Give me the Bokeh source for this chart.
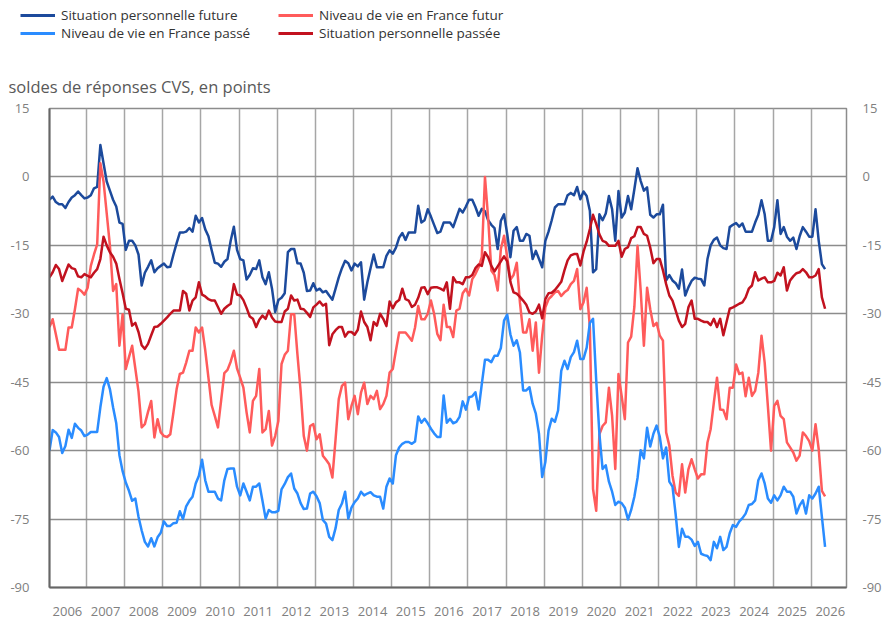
from bokeh.plotting import figure
from bokeh.models import Range1d, FixedTicker, LinearAxis, Legend, LegendItem
from bokeh.layouts import column
from bokeh.embed import file_html
from bokeh.resources import INLINE
from bokeh.core.properties import value

FONT = "Open Sans"

# ---------------- data (monthly, Jan 2006 onward) ----------------
years = [str(y) for y in range(2006, 2027)]
y_ticks = [15, 0, -15, -30, -45, -60, -75, -90]
y_tick_labels = ["15", "0", "-15", "-30", "-45", "-60", "-75", "-90"]
subtitle = "soldes de réponses CVS, en points"

names = ["Situation personnelle future", "Niveau de vie en France futur",
         "Niveau de vie en France passé", "Situation personnelle passée"]
colors = ["#1C4A9C", "#FF5B5B", "#2A8CFF", "#C2121F"]

# Situation personnelle future
spf = [
    -5, -4.3, -5.5, -6, -6, -6.8, -5.5, -4.5, -4, -3.2, -4, -4.7,
    -4.5, -4, -2.5, -2.2, 7, 3, -1, -3, -5, -6.5, -10, -10.3,
    -16, -14, -14, -15, -17, -23.8, -21, -19.7, -18.3, -20.9, -20, -19.5,
    -19, -19.8, -19.7, -17, -14.5, -12.2, -12.2, -12, -11.2, -12, -8.5, -10,
    -9, -11.5, -13, -16, -18.8, -19, -19.7, -18.6, -18, -14, -10.9, -16,
    -18, -18.3, -22.5, -21.5, -20, -20.2, -18.3, -22, -23.5, -20.9, -24.5, -29.6,
    -27, -26.5, -25.5, -16.5, -15.8, -15.8, -18.9, -19, -21, -25, -24.9, -23.3,
    -24.9, -24.5, -25.3, -25, -26, -26.9, -24.5, -22, -20, -18.4, -18.9, -20.5,
    -19, -19.6, -18.7, -26.9, -23.1, -20, -17, -19.8, -19.8, -19.8, -17.3, -16.1,
    -16.8, -15.5, -13.3, -12.3, -13.8, -12.2, -12.2, -12.2, -6.3, -10, -9.5, -7.1,
    -8.7, -10.5, -12.3, -12, -10, -10, -10, -11, -9, -7, -7.8, -6.5,
    -5, -5, -6.6, -8.5, -7, -7.5, -9.5, -10.5, -11.2, -15.8, -9.6, -8.2,
    -12.5, -17.6, -11.8, -11, -14, -14, -12.5, -12.9, -18, -16.2, -18, -19.8,
    -14, -12, -9.5, -6.7, -6, -6, -6, -4, -3.5, -4, -2.2, -4.9,
    -3.2, -4.2, -7.4, -20.9, -20.2, -8.2, -9.5, -8, -4.2, -7.1, -14, -3.1,
    -8.9, -7.8, -4.2, -7.1, -2.7, 1.9, -0.9, -3, -2.3, -8.3, -8.9, -8.2,
    -8.2, -6.1, -22.7, -21.5, -22.7, -23.3, -24.5, -20.3, -26, -24.2, -22.8, -22.1,
    -22.3, -22.4, -23.8, -18, -15, -13.8, -13.3, -15, -15.6, -15.8, -11, -10.5,
    -10.1, -10.9, -10.2, -12, -12, -12, -10, -8.3, -5.1, -8.2, -14, -14,
    -11, -5.1, -12.5, -11, -13.1, -14, -13.3, -15.8, -13, -11, -12, -13.1,
    -13.1, -7.1, -14, -19.1, -20.2,
]

# Niveau de vie en France futur
nvff = [
    -32.9, -31.2, -34.5, -37.9, -37.9, -37.9, -33, -33, -29, -24.5, -25, -25.8,
    -24.3, -19.5, -17, -14.8, 3, -1, -8, -15, -25, -23.5, -37, -30.1,
    -42.1, -39.5, -37, -42, -47, -54.9, -54.2, -51.5, -49.1, -57.1, -53.1, -56,
    -56.8, -57, -56.4, -51.6, -46.5, -43.2, -42.9, -40.7, -38.1, -38.1, -33, -34.1,
    -33, -38, -44, -50, -52.4, -54.9, -49, -43, -42.3, -40.5, -38.1, -42,
    -44, -46.2, -51.6, -56, -49.1, -48, -42.1, -56, -55.3, -51.3, -58.9, -56.8,
    -53.5, -41, -39, -38.1, -30.1, -30.1, -38.9, -46.9, -56.8, -60, -54.6, -54.2,
    -57.5, -56.4, -61.1, -62, -63, -65.9, -57.5, -48.7, -45.8, -45.1, -53.1, -50.2,
    -48, -52, -47.3, -45.1, -49.8, -48, -48.7, -46.9, -50.9, -49.8, -48, -42.9,
    -42.1, -38, -34.1, -34.1, -34.1, -35, -35.9, -33, -28.3, -31.2, -31.2, -30,
    -27.1, -30, -34.4, -35.8, -28, -32.9, -32.9, -35.1, -29.3, -28.9, -25.5, -24.5,
    -26, -22.4, -21.3, -19.8, -17.6, 0, -9, -20.5, -21.5, -24.9, -15.8, -12.9,
    -17.6, -22.5, -21.5, -18.8, -27.5, -34.1, -34.1, -31.2, -38.1, -31.9, -42.9, -34.8,
    -28.6, -26.8, -26.1, -25.3, -25, -26.1, -25.3, -24.8, -23.5, -22.8, -20.2, -29,
    -27.5, -24.3, -33, -68.4, -73.2, -56.4, -54.6, -53.8, -46.2, -52.4, -64, -43.2,
    -48, -53.1, -36.3, -35, -28.5, -15.1, -25, -37, -24.3, -29, -32.7, -32,
    -34.8, -35.9, -56, -58.9, -65.5, -69.2, -69.9, -63, -69.2, -64.1, -61.9, -64.1,
    -66.1, -65.2, -65.2, -58.2, -55.3, -49.5, -44, -51, -51.1, -53.1, -46.2, -46.2,
    -41.1, -43.2, -42.9, -48.1, -44, -48, -46.9, -42.9, -34.8, -40.7, -50.2, -60,
    -50.2, -49.1, -52.4, -53.1, -58.2, -59.3, -60.4, -62.2, -61.1, -56, -56.8, -57.9,
    -60, -54.2, -59.7, -68.8, -70,
]

# Niveau de vie en France passé
nvfp = [
    -60, -55.5, -56, -57, -60.5, -59, -55.4, -57.2, -54.1, -55, -55.6, -56.8,
    -56.5, -55.9, -55.9, -55.9, -50.5, -46, -44.1, -46.5, -50.5, -54, -61, -64.5,
    -67, -68.8, -71, -70.5, -74.5, -77.5, -80, -81, -79.2, -81, -79, -78,
    -75.5, -76.5, -76.5, -75.9, -75.8, -73.3, -75, -72.2, -71, -70.1, -67.2, -65.5,
    -62, -66.5, -69, -69, -69, -70.5, -70.9, -66.5, -64, -63.9, -63.9, -67.9,
    -69.8, -67.2, -69, -70.9, -67.9, -67.9, -67.2, -71, -74.9, -73, -73.5, -73.5,
    -73.2, -68.5, -67.3, -65.8, -65, -68.3, -69.4, -71.5, -72.8, -72.7, -69.4, -69,
    -70, -71.5, -75.2, -76, -78.9, -79.6, -77, -73, -71.6, -69, -74.9, -72.5,
    -71.3, -70.5, -69, -69.8, -69.4, -69.1, -69.8, -70.1, -70.1, -72.7, -67.9, -66.1,
    -67.2, -61, -59.3, -58.5, -58.1, -58.1, -58.5, -58, -52.5, -53.9, -53, -54,
    -55.2, -56.2, -57, -57, -47.9, -53.9, -53, -54, -53.7, -52.6, -49.2, -51,
    -48.3, -48.1, -47.2, -51, -45.4, -40.1, -40.1, -40.6, -39.2, -39.2, -37.5, -31.5,
    -30.2, -34.5, -37, -35.8, -38.5, -46.8, -46.8, -46.1, -49.7, -51.9, -56.3, -65.8,
    -62.5, -55.6, -53, -53.7, -51.2, -42.5, -40.3, -42.1, -39.5, -38.4, -35.9, -39.9,
    -39.9, -37.4, -32, -31.1, -44.6, -56.3, -64, -63.2, -66.8, -69, -71.9, -71.2,
    -71.5, -72.5, -75.1, -73, -70.1, -66, -59.9, -61.7, -55, -59.1, -56.3, -54.5,
    -57, -61.7, -59.3, -66.8, -67.9, -74, -81.1, -77.1, -78.9, -78.9, -79.5, -80.9,
    -80, -82.6, -82.9, -83.1, -84, -80, -81.4, -78.9, -81.8, -81.1, -78.1, -76.3,
    -76.7, -75.5, -74.8, -73.8, -71.9, -71.7, -70.9, -66.5, -65, -67.2, -70.5, -71.4,
    -69.8, -70.9, -69.8, -67.9, -69, -69, -70.1, -73.8, -72, -70.9, -73.8, -69.8,
    -70.5, -69.4, -67.9, -74.5, -81.1,
]

# Situation personnelle passée
spp = [
    -22, -20.9, -19.3, -20.2, -22.8, -21, -19.2, -20, -20.2, -21.8, -22, -21.3,
    -21.7, -22, -21, -20.2, -18, -13.1, -15, -16.5, -17.5, -19, -22.4, -25.5,
    -28.9, -29.1, -32.6, -32, -34, -36.9, -37.7, -36.6, -34.7, -32.9, -32.8, -32.2,
    -31.5, -30.8, -30, -29.3, -29.3, -29.3, -25, -25.6, -29.3, -27.1, -26.4, -23.1,
    -25.8, -26.2, -26.8, -27.1, -27.1, -28.5, -30, -28.9, -28.3, -27.8, -23.5, -25.8,
    -26, -27, -28.7, -30.6, -31.1, -32.9, -31.3, -30.4, -31.1, -29.3, -30.8, -31.7,
    -31.8, -31.8, -29.5, -28.9, -26, -27.1, -26.9, -28.9, -29, -29.8, -30.7, -28.6,
    -28, -27.3, -28.2, -27.8, -36.9, -34.5, -33.6, -32.9, -32.9, -35, -34, -34,
    -34.6, -33.5, -29.5, -31.8, -32.9, -35.8, -31.8, -32.6, -30, -31.1, -32.7, -27.3,
    -28.8, -27.5, -27, -24.5, -26.8, -27.1, -28.5, -28, -26.5, -24.3, -24.2, -25.7,
    -24.3, -24.2, -24.2, -24.5, -24.9, -23.1, -28.9, -22, -23.1, -23.1, -23.5, -22,
    -22, -21.5, -20, -19.2, -19.5, -16.5, -17.6, -19.5, -20.7, -19.6, -18.5, -17.4,
    -18.5, -23, -25.3, -25.6, -26.3, -27.1, -28, -29.7, -30, -29.5, -28, -31,
    -26.8, -25.5, -25.4, -24.8, -23.9, -23, -20.5, -18.3, -17.2, -16.9, -16.9, -19.4,
    -16.4, -14.2, -11.4, -8.3, -10.3, -12.6, -14, -14.3, -15.1, -15.1, -15.1, -14,
    -17.5, -15.8, -15.4, -13.4, -13, -11, -11, -12.5, -12.9, -15.5, -18.9, -18,
    -18, -20.5, -23.5, -26, -27.1, -29.3, -31.5, -32.9, -32.2, -28.6, -27.1, -31.1,
    -31.1, -31.5, -31.8, -31.8, -32.5, -31.1, -32.9, -31.1, -34.7, -31.8, -28.9, -28.6,
    -28.2, -27.8, -27.5, -26.4, -24.5, -23.8, -20.9, -22.7, -22.3, -22, -23.1, -23.1,
    -22.8, -21, -21.6, -19.8, -24.9, -22.7, -21.8, -21.1, -20.9, -20.2, -20.9, -22,
    -22, -21.6, -20.2, -26.4, -28.9,
]

series = [spf, nvff, nvfp, spp]

# months elapsed since January 2006 (x in month units)
x_month = [m + 0.36 for m in range(len(spf))]

W = 887
HEAD_H = 100
CHART_H = 626 - HEAD_H


def no_frame_align(fig):
    # let each figure keep its own frame (no cross-plot frame alignment)
    if "frame_align" in fig.properties():
        fig.frame_align = False


# ---------------- header: legend + subtitle ----------------
head = figure(width=W, height=HEAD_H, x_range=Range1d(0, W), y_range=Range1d(HEAD_H, 0),
              output_backend="svg", toolbar_location=None,
              x_axis_type=None, y_axis_type=None, min_border=0)
head.outline_line_color = None
head.grid.visible = False
no_frame_align(head)

# legend keys (same styles as the chart lines; no visible data of their own)
nan = float("nan")
keys = [head.line(x=[nan, nan], y=[nan, nan], line_color=c, line_width=3) for c in colors]

for idx, left in (([0, 2], 20), ([1, 3], 278)):
    lg = Legend(items=[LegendItem(label=names[i], renderers=[keys[i]]) for i in idx],
                location=(left, HEAD_H - 42), orientation="vertical",
                glyph_width=35, glyph_height=18, label_height=18, label_standoff=6,
                spacing=0, padding=0, margin=0,
                border_line_color=None, background_fill_alpha=0,
                label_text_font=FONT, label_text_font_size="13.5px",
                label_text_color="#333333")
    head.add_layout(lg)

head.text(x=[8], y=[85.5], text=[subtitle], text_font=value(FONT),
          text_font_size=value("16.5px"), text_color="#595959",
          text_baseline="alphabetic", text_align="left")

# ---------------- chart ----------------
p = figure(width=W, height=CHART_H, x_range=Range1d(0.36, 251.1), y_range=Range1d(-90, 15),
           output_backend="svg", toolbar_location=None,
           min_border_left=49, min_border_right=41, min_border_top=8, min_border_bottom=39)
no_frame_align(p)

for vals, col in zip(series, colors):
    p.line(x_month, vals, line_color=col, line_width=2.5, line_join="round")

label_pos = [12 * i + 6 for i in range(len(years))]
p.xaxis.ticker = FixedTicker(ticks=label_pos)
p.xaxis.major_label_overrides = {pos: yr for pos, yr in zip(label_pos, years)}
p.xgrid.ticker = FixedTicker(ticks=[12 * i for i in range(1, len(years))])

p.yaxis.ticker = FixedTicker(ticks=y_ticks)
p.yaxis.major_label_overrides = {t: s for t, s in zip(y_ticks, y_tick_labels)}
ra = LinearAxis(ticker=FixedTicker(ticks=y_ticks),
                major_label_overrides={t: s for t, s in zip(y_ticks, y_tick_labels)})
p.add_layout(ra, "right")

for ax in [p.xaxis[0], p.yaxis[0], ra]:
    ax.major_tick_line_color = None
    ax.minor_tick_line_color = None
    ax.major_tick_out = 0
    ax.major_tick_in = 0
    ax.major_label_text_font = FONT
    ax.major_label_text_font_size = "13px"
    ax.major_label_text_color = "#808080"

p.xaxis.major_label_standoff = 19
p.yaxis.major_label_standoff = 20
ra.major_label_standoff = 16

p.xaxis.axis_line_color = "#666666"
p.xaxis.axis_line_width = 2
p.yaxis.axis_line_color = "#666666"
p.yaxis.axis_line_width = 2
ra.axis_line_color = None

p.outline_line_color = "#8c8c8c"
p.outline_line_width = 1.5
p.xgrid.grid_line_color = "#a6a6a6"
p.xgrid.grid_line_width = 1.5
p.ygrid.grid_line_color = "#8c8c8c"
p.ygrid.grid_line_width = 1.5

layout = column(head, p, spacing=0)
open("out.html", "w").write(file_html(layout, INLINE))
